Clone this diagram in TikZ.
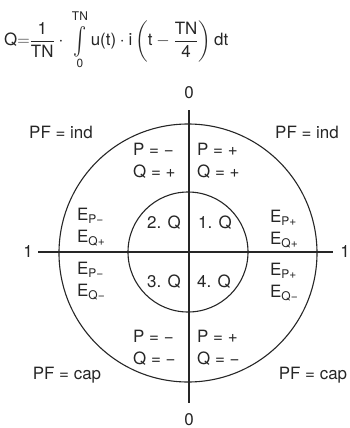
\documentclass[tikz,border=0pt]{standalone}
\usepackage{amsmath}
\usepackage{graphicx}
\usepackage{fontspec}
\setmainfont{TeX Gyre Heros}
\usetikzlibrary{positioning}

\newcommand\esub[1]{\raisebox{-0.3ex}{\fontsize{12}{12}\selectfont #1}}
\newcommand\tallint{\mathop{\vcenter{\hbox{\scalebox{1.15}[1.6]{$\textstyle\int$}}}}\limits}
\newcommand\limtxt[1]{\raisebox{2bp}{\fontsize{12}{12}\selectfont #1}}

\begin{document}
\begin{tikzpicture}[
    x=1bp,y=-1bp,
    every node/.style={font=\fontsize{17}{22}\selectfont,text=black!85,inner sep=0pt},
    ring/.style={circle,draw=black!85,line width=1.1bp,minimum size=#1},
    ax/.style={draw=black!85,line width=1.2bp},
    blk/.style={align=left,anchor=west}
  ]
  \useasboundingbox (0,0) rectangle (350,428);
  % formula
  \node[anchor=west] (form) at (4,40)
    {$\text{Q}{=}\dfrac{\text{1}}{\text{TN}}\cdot\;\tallint_{\text{0}}^{\limtxt{TN}}\text{u(t)}\cdot\text{i}\left(\text{t}-\dfrac{\text{TN}}{\text{4}}\right)\text{dt}$};
  % circles
  \node[ring=258bp] (outer) at (188,253) {};
  \node[ring=120bp] (inner) at (188,252) {};
  % axes
  \node (top0) at (189,93) {0};
  \node (bot0) at (189,420) {0};
  \node (left1) at (28,251) {1};
  \node (right1) at (345,251) {1};
  \coordinate (vt) at (189,110); \coordinate (vb) at (189,403);
  \coordinate (hl) at (38,252);  \coordinate (hr) at (333,252);
  \draw[ax] (vt) -- (vb);
  \draw[ax] (hl) -- (hr);
  % power factor
  \node (pfUL) at (61,132) {PF = ind};
  \node (pfUR) at (307,132) {PF = ind};
  \node (pfLL) at (67,375) {PF = cap};
  \node (pfLR) at (313,375) {PF = cap};
  % signs of P and Q
  \node[blk] (pqUL) at (133,161) {P = −\\Q = +};
  \node[blk] (pqUR) at (197,161) {P = +\\Q = +};
  \node[blk] (pqLL) at (133,348) {P = −\\Q = −};
  \node[blk] (pqLR) at (197,348) {P = +\\Q = −};
  % energies
  \node[blk] (eUL) at (77,227) {E\esub{P−}\\E\esub{Q+}};
  \node[blk] (eUR) at (270,229) {E\esub{P+}\\E\esub{Q+}};
  \node[blk] (eLL) at (77,281) {E\esub{P−}\\E\esub{Q−}};
  \node[blk] (eLR) at (270,282) {E\esub{P+}\\E\esub{Q−}};
  % quadrants
  \node[blk] (q2) at (147,223) {2. Q};
  \node[blk] (q1) at (198,223) {1. Q};
  \node[blk] (q3) at (147,282) {3. Q};
  \node[blk] (q4) at (197,282) {4. Q};
\end{tikzpicture}
\end{document}
